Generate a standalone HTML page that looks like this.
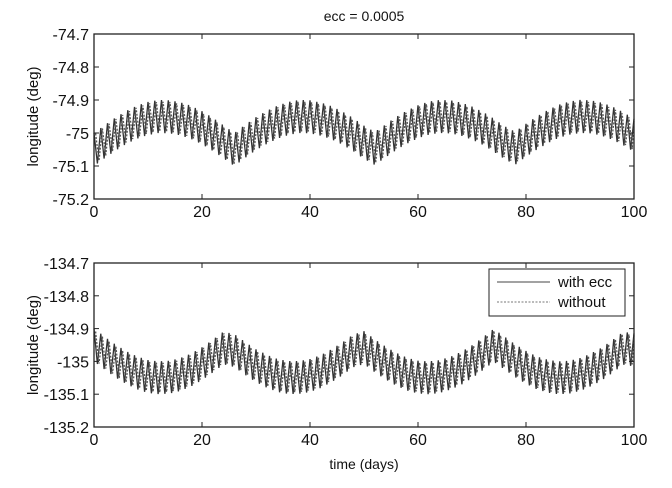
<!DOCTYPE html>
<html><head><meta charset="utf-8"><style>
body{margin:0;background:#fff;}
svg{display:block;font-family:"Liberation Sans",Arial,sans-serif;}
</style></head><body>
<svg id="chart" width="672" height="488" viewBox="0 0 672 488"></svg>
<script>
const days = [0,2,4,6,8,10,12,14,16,18,20,22,24,26,28,30,32,34,36,38,40,42,44,46,48,50,52,54,56,58,60,62,64,66,68,70,72,74,76,78,80,82,84,86,88,90,92,94,96,98,100];
const topCenter = [-75.05,-75.026,-75.003,-74.983,-74.967,-74.956,-74.95,-74.951,-74.957,-74.968,-74.984,-75.004,-75.027,-75.05,-75.025,-75.002,-74.983,-74.967,-74.956,-74.95,-74.951,-74.958,-74.969,-74.985,-75.005,-75.028,-75.047,-75.024,-75.001,-74.982,-74.966,-74.955,-74.95,-74.951,-74.958,-74.97,-74.986,-75.006,-75.029,-75.046,-75.022,-75.0,-74.981,-74.965,-74.955,-74.95,-74.951,-74.958,-74.97,-74.987,-75.007];
const botCenter = [-134.95,-134.975,-134.999,-135.019,-135.035,-135.046,-135.05,-135.048,-135.04,-135.026,-135.007,-134.984,-134.959,-134.967,-134.991,-135.013,-135.03,-135.043,-135.049,-135.049,-135.043,-135.031,-135.013,-134.992,-134.968,-134.958,-134.983,-135.005,-135.024,-135.039,-135.048,-135.05,-135.046,-135.036,-135.021,-135.001,-134.977,-134.951,-134.974,-134.998,-135.018,-135.035,-135.045,-135.05,-135.048,-135.04,-135.026,-135.008,-134.985,-134.96,-134.965];
const oscAmplitude = [0.05, 0.045];
const oscPeriod = 1.25;
const xTicks = [0,20,40,60,80,100];
const topTicks = [-74.7,-74.8,-74.9,-75,-75.1,-75.2];
const botTicks = [-134.7,-134.8,-134.9,-135,-135.1,-135.2];
const topTickLabels = ["-74.7","-74.8","-74.9","-75","-75.1","-75.2"];
const botTickLabels = ["-134.7","-134.8","-134.9","-135","-135.1","-135.2"];

const svg = document.getElementById('chart');
const NS = 'http://www.w3.org/2000/svg';
function mk(tag, attrs, parent){const e=document.createElementNS(NS,tag);for(const k in attrs)e.setAttribute(k,attrs[k]);(parent||svg).appendChild(e);return e;}
const X0=94, X1=634;
function xs(t){return X0+(t-0)/(100-0)*(X1-X0);}
function interp(arr,t){
  if(t<=days[0])return arr[0];
  for(let i=1;i<days.length;i++){if(t<=days[i]){const f=(t-days[i-1])/(days[i]-days[i-1]);return arr[i-1]+f*(arr[i]-arr[i-1]);}}
  return arr[arr.length-1];
}
function panel(name, yTop, yBot, yMax, yMin, ticks, labels, center, phaseShift){
  const g=mk('g',{});
  
  
  const ys=v=>yTop+(yMax-v)/(yMax-yMin)*(yBot-yTop);
  const styles=[{stroke:'#333',w:1.3,dash:'none',name:'series-with-ecc',shift:0},{stroke:'#555',w:1.3,dash:'2,1.5',name:'series-without',shift:phaseShift}];
  styles.forEach((s,si)=>{
    let pts=[];let k=0;
    for(let t=0;t<=100.001;t+=oscPeriod/2){
      const tt=Math.min(t+s.shift,100);
      const v=interp(center,tt)+(k%2?-1:1)*oscAmplitude[si];
      pts.push(xs(tt).toFixed(1)+','+ys(v).toFixed(1));k++;
    }
    const p=mk('polyline',{points:pts.join(' '),fill:'none',stroke:s.stroke,'stroke-width':s.w,'stroke-dasharray':s.dash},g);
    
    
  });
  const box=mk('rect',{x:X0,y:yTop,width:X1-X0,height:yBot-yTop,fill:'none',stroke:'#222','stroke-width':1.3},g);
  
  
  ticks.forEach((v,i)=>{
    const y=ys(v);
    mk('line',{x1:X0,x2:X0+5,y1:y,y2:y,stroke:'#222'},g);
    mk('line',{x1:X1,x2:X1-5,y1:y,y2:y,stroke:'#222'},g);
    const t=mk('text',{x:X0-5,y:y+6,'text-anchor':'end','font-size':16,fill:'#111'},g);
    t.textContent=labels[i];
    
    
  });
  xTicks.forEach(v=>{
    const x=xs(v);
    mk('line',{x1:x,x2:x,y1:yBot,y2:yBot-5,stroke:'#222'},g);
    mk('line',{x1:x,x2:x,y1:yTop,y2:yTop+5,stroke:'#222'},g);
    const t=mk('text',{x:x,y:yBot+18,'text-anchor':'middle','font-size':16,fill:'#111'},g);
    t.textContent=String(v);
    
    
  });
  const yl=mk('text',{x:0,y:0,transform:'translate(38,'+((yTop+yBot)/2)+') rotate(-90)','text-anchor':'middle','font-size':15,fill:'#111'},g);
  yl.textContent='longitude (deg)';
  
  
}
panel('top-panel',34,199,-74.7,-75.2,topTicks,topTickLabels,topCenter,0.3);
panel('bottom-panel',263,427,-134.7,-135.2,botTicks,botTickLabels,botCenter,0.3);
const title=mk('text',{x:364,y:21,'text-anchor':'middle','font-size':14,fill:'#111'});
title.textContent='ecc = 0.0005';


const xl=mk('text',{x:364,y:469,'text-anchor':'middle','font-size':14,fill:'#111'});
xl.textContent='time (days)';


const lg=mk('g',{});


mk('rect',{x:489,y:269,width:136,height:47,fill:'#fff',stroke:'#222','stroke-width':1},lg);
mk('line',{x1:497,x2:550,y1:282,y2:282,stroke:'#444','stroke-width':1},lg);
mk('line',{x1:497,x2:550,y1:302,y2:302,stroke:'#777','stroke-width':1,'stroke-dasharray':'2,1.5'},lg);
const l1=mk('text',{x:558,y:287,'font-size':15,fill:'#111'},lg);
l1.textContent='with ecc';


const l2=mk('text',{x:558,y:307,'font-size':15,fill:'#111'},lg);
l2.textContent='without';


</script>
</body></html>
